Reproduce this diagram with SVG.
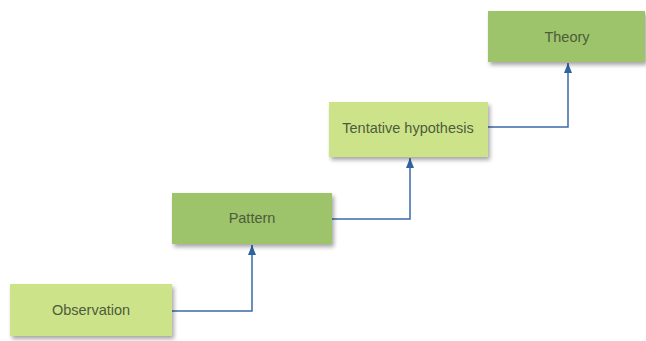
<svg xmlns="http://www.w3.org/2000/svg" width="646" height="341" viewBox="0 0 646 341">
<defs>
<filter id="sh" x="-10%" y="-20%" width="125%" height="150%">
<feGaussianBlur in="SourceAlpha" stdDeviation="2"/>
<feOffset dx="2" dy="3"/>
<feComponentTransfer><feFuncA type="linear" slope="0.35"/></feComponentTransfer>
<feMerge><feMergeNode/><feMergeNode in="SourceGraphic"/></feMerge>
</filter>
<marker id="ah" viewBox="0 0 10 8" refX="10" refY="4" markerWidth="10" markerHeight="8" markerUnits="userSpaceOnUse" orient="auto">
<path d="M0,0 L10,4 L0,8 Z" fill="#2f64a3"/>
</marker>
</defs>
<style>
.light{fill:#cde38a;}
.dark{fill:#9dc46b;}
.lbl{font-family:"Liberation Sans",Arial,sans-serif;font-size:14.5px;fill:#4d5c3a;text-anchor:middle;dominant-baseline:central;}
.conn{fill:none;stroke:#3a6aa8;stroke-width:1.5;}
</style>
<rect width="646" height="341" fill="#ffffff"/>
<g id="connectors">
<path class="conn" d="M172,311 H252 V245" marker-end="url(#ah)"/>
<path class="conn" d="M332,219 H410 V158" marker-end="url(#ah)"/>
<path class="conn" d="M488,127 H568 V63" marker-end="url(#ah)"/>
</g>
<g id="observation">
<rect class="light" x="10" y="284" width="162" height="52" filter="url(#sh)"/>
<text class="lbl" x="91" y="310">Observation</text>
</g>
<g id="pattern">
<rect class="dark" x="172" y="193" width="160" height="51" filter="url(#sh)"/>
<text class="lbl" x="252" y="218">Pattern</text>
</g>
<g id="tentative">
<rect class="light" x="329" y="102" width="159" height="55" filter="url(#sh)"/>
<text class="lbl" x="408" y="128">Tentative hypothesis</text>
</g>
<g id="theory">
<rect class="dark" x="488" y="11" width="157" height="51" filter="url(#sh)"/>
<text class="lbl" x="567" y="37">Theory</text>
</g>
</svg>
